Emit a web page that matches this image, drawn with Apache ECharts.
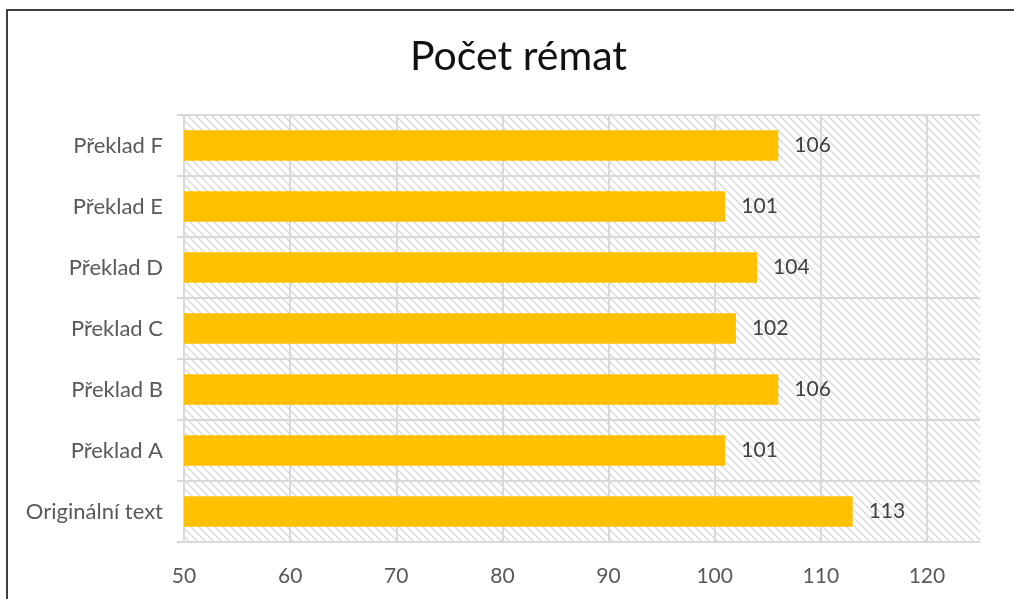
<!DOCTYPE html>
<html>
<head>
<meta charset="utf-8">
<title>Počet rémat</title>
<script src="https://cdn.jsdelivr.net/npm/echarts@6/dist/echarts.min.js"></script>
<style>
html, body { margin: 0; padding: 0; background: #fff; overflow: hidden; }
#main { position: absolute; left: 0; top: 0; width: 1014px; height: 599px; }
#frame { position: absolute; left: 6px; top: 9px; width: 1020px; height: 620px; border: 2px solid #3f3f3f; box-sizing: border-box; pointer-events: none; }
</style>
</head>
<body>
<div id="main"></div>
<div id="frame"></div>
<script type="text/javascript">
// data
var categories = ['Originální text', 'Překlad A', 'Překlad B', 'Překlad C', 'Překlad D', 'Překlad E', 'Překlad F'];
var values = [113, 101, 106, 102, 104, 101, 106];
var xTicks = [50, 60, 70, 80, 90, 100, 110, 120];

// diagonal hatch for the plot background
function hatch() {
    var c = document.createElement('canvas');
    c.width = 8; c.height = 8;
    var ctx = c.getContext('2d');
    ctx.strokeStyle = '#d8d8d8';
    ctx.lineWidth = 1.3;
    ctx.beginPath();
    ctx.moveTo(-2, -2); ctx.lineTo(10, 10);
    ctx.moveTo(-2, 6); ctx.lineTo(2, 10);
    ctx.moveTo(6, -2); ctx.lineTo(10, 2);
    ctx.stroke();
    return c;
}

var font = 'Lato, "Open Sans", sans-serif';
var grey = '#d9d9d9';
// last split line (at the axis max) stays hidden
var splitColors = xTicks.map(function () { return grey; });
splitColors.push('rgba(0,0,0,0)');

var chart = echarts.init(document.getElementById('main'));
chart.setOption({
    animation: false,
    title: {
        text: 'Počet rémat',
        left: 405,
        top: 31,
        textStyle: { fontFamily: font, fontSize: 41, fontWeight: 'normal', color: '#111' }
    },
    grid: {
        left: 184, right: 34, top: 115, bottom: 57,
        show: true,
        borderWidth: 0,
        backgroundColor: { image: hatch(), repeat: 'repeat' }
    },
    xAxis: {
        type: 'value',
        min: 50, max: 125, interval: 10,
        axisLine: { show: false },
        axisTick: { show: false },
        splitLine: { show: true, lineStyle: { color: splitColors, width: 2 } },
        axisLabel: {
            margin: 24,
            fontFamily: font, fontSize: 21, color: '#595959',
            formatter: function (v) { return xTicks.indexOf(v) >= 0 ? String(v) : ''; }
        }
    },
    yAxis: {
        type: 'category',
        data: categories,
        axisLine: { show: true, lineStyle: { color: grey, width: 2 } },
        axisTick: { show: true, length: 7, lineStyle: { color: grey, width: 2 } },
        splitLine: { show: true, lineStyle: { color: grey, width: 2 } },
        axisLabel: { margin: 21, fontFamily: font, fontSize: 22, color: '#595959' }
    },
    series: [{
        type: 'bar',
        data: values,
        barCategoryGap: '50%',
        itemStyle: { color: '#FFC000' },
        label: {
            show: true, position: 'right', distance: 16,
            fontFamily: font, fontSize: 21, color: '#404040'
        }
    }]
});
</script>
</body>
</html>
